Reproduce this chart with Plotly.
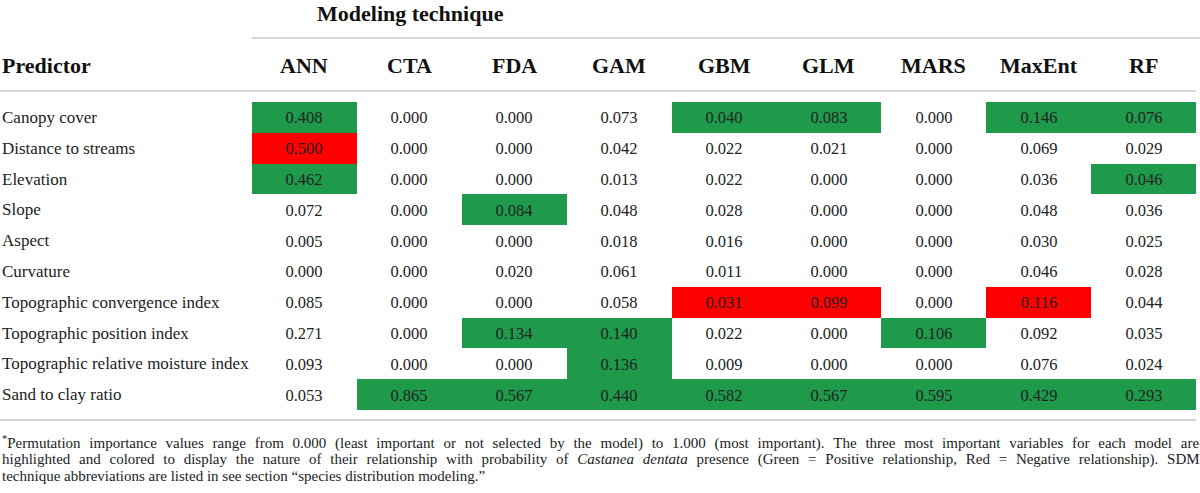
import plotly.graph_objects as go

predictors = [
    "Canopy cover",
    "Distance to streams",
    "Elevation",
    "Slope",
    "Aspect",
    "Curvature",
    "Topographic convergence index",
    "Topographic position index",
    "Topographic relative moisture index",
    "Sand to clay ratio",
]
techniques = ["ANN", "CTA", "FDA", "GAM", "GBM", "GLM", "MARS", "MaxEnt", "RF"]

# permutation importance, one list per technique (rows follow predictors)
ann = [0.408, 0.500, 0.462, 0.072, 0.005, 0.000, 0.085, 0.271, 0.093, 0.053]
cta = [0.000, 0.000, 0.000, 0.000, 0.000, 0.000, 0.000, 0.000, 0.000, 0.865]
fda = [0.000, 0.000, 0.000, 0.084, 0.000, 0.020, 0.000, 0.134, 0.000, 0.567]
gam = [0.073, 0.042, 0.013, 0.048, 0.018, 0.061, 0.058, 0.140, 0.136, 0.440]
gbm = [0.040, 0.022, 0.022, 0.028, 0.016, 0.011, 0.031, 0.022, 0.009, 0.582]
glm = [0.083, 0.021, 0.000, 0.000, 0.000, 0.000, 0.099, 0.000, 0.000, 0.567]
mars = [0.000, 0.000, 0.000, 0.000, 0.000, 0.000, 0.000, 0.106, 0.000, 0.595]
maxent = [0.146, 0.069, 0.036, 0.048, 0.030, 0.046, 0.116, 0.092, 0.076, 0.429]
rf = [0.076, 0.029, 0.046, 0.036, 0.025, 0.028, 0.044, 0.035, 0.024, 0.293]

# top-3 highlight: 1 = positive relationship, 2 = negative relationship
ann_hl = [1, 2, 1, 0, 0, 0, 0, 0, 0, 0]
cta_hl = [0, 0, 0, 0, 0, 0, 0, 0, 0, 1]
fda_hl = [0, 0, 0, 1, 0, 0, 0, 1, 0, 1]
gam_hl = [0, 0, 0, 0, 0, 0, 0, 1, 1, 1]
gbm_hl = [1, 0, 0, 0, 0, 0, 2, 0, 0, 1]
glm_hl = [1, 0, 0, 0, 0, 0, 2, 0, 0, 1]
mars_hl = [0, 0, 0, 0, 0, 0, 0, 1, 0, 1]
maxent_hl = [1, 0, 0, 0, 0, 0, 2, 0, 0, 1]
rf_hl = [1, 0, 1, 0, 0, 0, 0, 0, 0, 1]

footnote = [
    "<sup>*</sup>Permutation importance values range from 0.000 (least important or not selected by the model) "
    "to 1.000 (most important). The three most important variables for each model are",
    "highlighted and colored to display the nature of their relationship with probability of "
    "<i>Castanea dentata</i> presence (Green = Positive relationship, Red = Negative relationship). SDM",
    "technique abbreviations are listed in see section \u201cspecies distribution modeling.\u201d",
]

cols = [ann, cta, fda, gam, gbm, glm, mars, maxent, rf]
hls = [ann_hl, cta_hl, fda_hl, gam_hl, gbm_hl, glm_hl, mars_hl, maxent_hl, rf_hl]

n_rows = len(predictors)
z = [[hl[r] for hl in hls] for r in range(n_rows)]
txt = [[f"{c[r]:.3f}" for c in cols] for r in range(n_rows)]

GREEN = "#1e9a4a"
RED = "#ff0000"
SERIF = "Liberation Serif, Times New Roman, serif"
RULE = "#c8c8c8"

W, H = 1200, 493
L, R, T, B = 252, 4, 102, 83
pw, ph = W - L - R, H - T - B


def px_x(x):
    return (x - L) / pw


def px_y(y):
    return (H - B - y) / ph


def justify(line):
    # widen the word gaps a little (four-per-em + hair space) to mimic justified text
    return line.replace(" ", " \u2005\u200a").replace("<i> \u2005\u200a", "<i> ")


fig = go.Figure()

fig.add_trace(go.Heatmap(
    z=z,
    x=list(range(len(techniques))),
    y=list(range(n_rows)),
    text=txt,
    texttemplate="%{text}",
    textfont=dict(family=SERIF, size=16.5, color="#222222"),
    colorscale=[[0, "white"], [0.5, GREEN], [1, RED]],
    zmin=0, zmax=2,
    showscale=False,
    hoverinfo="skip",
))

head_font = dict(family=SERIF, size=22, color="#111111")
ann_list = []
# column headers
for i, t in enumerate(techniques):
    ann_list.append(dict(
        x=i, y=px_y(65), xref="x", yref="paper", text=f"<b>{t}</b>",
        xanchor="center", yanchor="middle", showarrow=False, font=head_font,
    ))
ann_list.append(dict(
    x=px_x(0), y=px_y(65), xref="paper", yref="paper", text="<b>Predictor</b>",
    xanchor="left", yanchor="middle", showarrow=False, font=head_font,
))
ann_list.append(dict(
    x=px_x(410), y=px_y(13), xref="paper", yref="paper", text="<b>Modeling technique</b>",
    xanchor="center", yanchor="middle", showarrow=False, font=head_font,
))
# row labels
for r, p in enumerate(predictors):
    ann_list.append(dict(
        x=px_x(0), y=r, xref="paper", yref="y", text=p,
        xanchor="left", yanchor="middle", showarrow=False,
        font=dict(family=SERIF, size=17, color="#222222"),
    ))
# footnote (last line left ragged)
for k, line in enumerate(footnote):
    if k < len(footnote) - 1:
        line = justify(line)
    ann_list.append(dict(
        x=px_x(0), y=px_y(442 + 17 * k), xref="paper", yref="paper", text=line,
        xanchor="left", yanchor="middle", showarrow=False,
        font=dict(family=SERIF, size=15, color="#222222"),
    ))

shapes = [
    dict(type="line", xref="paper", yref="paper", x0=px_x(252), x1=px_x(1200),
         y0=px_y(38), y1=px_y(38), line=dict(color=RULE, width=1.5)),
    dict(type="line", xref="paper", yref="paper", x0=px_x(0), x1=px_x(1196),
         y0=px_y(91), y1=px_y(91), line=dict(color=RULE, width=1.5)),
    dict(type="line", xref="paper", yref="paper", x0=px_x(0), x1=px_x(1196),
         y0=px_y(420), y1=px_y(420), line=dict(color=RULE, width=1.5)),
]

fig.update_layout(
    width=W, height=H,
    margin=dict(l=L, r=R, t=T, b=B),
    paper_bgcolor="white", plot_bgcolor="white",
    annotations=ann_list,
    shapes=shapes,
    xaxis=dict(visible=False, range=[-0.5, len(techniques) - 0.5], fixedrange=True),
    yaxis=dict(visible=False, range=[n_rows - 0.5, -0.5], fixedrange=True),
    showlegend=False,
)

fig.write_html("out.html", config={"displayModeBar": False},
               post_script="document.body.style.margin = '0px';")
